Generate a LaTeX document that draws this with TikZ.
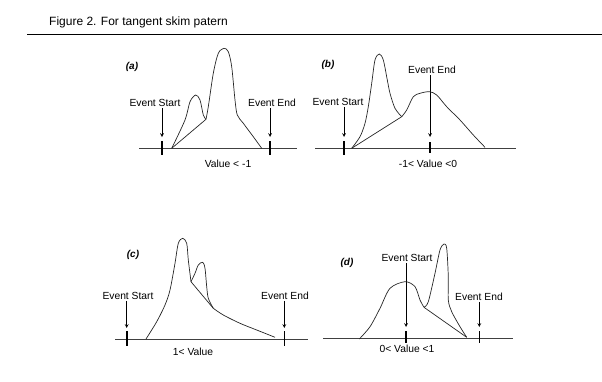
\documentclass[tikz,border=0pt]{standalone}
\usepackage{fontspec}
\setmainfont{Liberation Sans}
\usetikzlibrary{positioning}

\begin{document}
\begin{tikzpicture}[x=1pt,y=-1pt,
		lbl/.style={font=\fontsize{10.3}{12}\selectfont,inner sep=1pt},
		panel/.style={font=\fontsize{10}{11}\selectfont\bfseries\itshape,inner sep=0pt},
		tickmark/.style={line width=1.6pt},
		base/.style={line width=0.7pt,color=black!75},
		peak/.style={line width=0.7pt,color=black!85},
		pointer/.style={->,line width=0.7pt,>=stealth}]
				\useasboundingbox (0,0) rectangle (602,381);
				%Title
				\node[font=\fontsize{12}{14}\selectfont,anchor=west,inner sep=0pt] (title) at (49,22) {Figure 2. For tangent skim patern};
				\coordinate      (r0) 	at 	(27,34);
				\coordinate      (r1) 	at 	(602,34);
				\draw[line width=1pt] (r0) -- (r1);

				%Panel (a)
				\node[panel] (pa) at (132,67) {(a)};
				\node[lbl] (sa) at (155,103) {Event Start};
				\node[lbl] (ea) at (272,103) {Event End};
				\node[lbl] (va) at (228,164) {Value < -1};
				\coordinate      (a0) 	at 	(139,148);
				\coordinate      (a1) 	at 	(297,148);
				\coordinate      (as) 	at 	(162,148);
				\coordinate      (ae) 	at 	(270,148);
				\coordinate      (ap) 	at 	(171.7,148.3);
				\coordinate      (av) 	at 	(206,119.3);
				\coordinate      (aq) 	at 	(261.7,148.3);
				\draw[base] (a0) -- (a1);
				\draw[tickmark] (as) ++(0,-7) -- ++(0,14);
				\draw[tickmark] (ae) ++(0,-7) -- ++(0,14);
				\draw[pointer] (sa.south -| as) -- ([yshift=11pt]as);
				\draw[pointer] (ea.south -| ae) -- ([yshift=11pt]ae);
				\draw[peak] plot[smooth,tension=0.5] coordinates {(ap) (185,120) (190,101.7) (195.7,95) (200,100) (203.3,115) (av)};
				\draw[peak] plot[smooth,tension=0.5] coordinates {(av) (208.3,106.7) (213.3,73.3) (218.3,53.3) (224,48.3) (228.3,51.7) (231.7,66.7) (235,100) (237.3,115) (243.3,123.3) (253.3,136.7) (aq)};
				\draw[peak] (ap) -- (av);

				%Panel (b)
				\node[panel] (pb) at (328,65) {(b)};
				\node[lbl] (sb) at (338,102) {Event Start};
				\node[lbl] (eb) at (432,70) {Event End};
				\node[lbl] (vb) at (428,164) {-1< Value <0};
				\coordinate      (b0) 	at 	(315,148);
				\coordinate      (b1) 	at 	(516,148);
				\coordinate      (bs) 	at 	(344,148);
				\coordinate      (be) 	at 	(430,148);
				\coordinate      (bp) 	at 	(351.7,148.3);
				\coordinate      (bv) 	at 	(401.7,116.7);
				\coordinate      (bq) 	at 	(485,147.3);
				\draw[base] (b0) -- (b1);
				\draw[tickmark] (bs) ++(0,-7) -- ++(0,14);
				\draw[tickmark] (be) ++(0,-6) -- ++(0,11);
				\draw[pointer] (sb.south -| bs) -- ([yshift=11pt]bs);
				\draw[pointer] (eb.south -| be) -- ([yshift=11pt]be);
				\draw[peak] plot[smooth,tension=0.5] coordinates {(bp) (360,136.7) (365,123.3) (368.3,106.7) (371.7,83.3) (375,60) (379.3,54) (383.3,60) (387.3,80) (390,93.3) (395,108.3) (bv)};
				\draw[peak] plot[smooth,tension=0.5] coordinates {(bv) (406.7,110) (413.3,96.7) (420,93.3) (429.3,91.7) (436.7,95) (446.7,106.7) (460,120) (473.3,135) (bq)};
				\draw[peak] (bp) -- (bv);

				%Panel (c)
				\node[panel] (pc) at (133,255) {(c)};
				\node[lbl] (sc) at (128,296) {Event Start};
				\node[lbl] (ec) at (285,296) {Event End};
				\node[lbl] (vc) at (193,352) {1< Value};
				\coordinate      (c0) 	at 	(115,339);
				\coordinate      (c1) 	at 	(308,339);
				\coordinate      (cs) 	at 	(126.7,339);
				\coordinate      (ce) 	at 	(284.3,339);
				\coordinate      (cp) 	at 	(146,339);
				\coordinate      (cv) 	at 	(191,281.7);
				\coordinate      (cj) 	at 	(213.3,308.3);
				\coordinate      (cq) 	at 	(275,337.3);
				\draw[base] (c0) -- (c1);
				\draw[tickmark] (cs) ++(0,-8) -- ++(0,15);
				\draw[tickmark] (ce) ++(0,-8) -- ++(0,15);
				\draw[pointer] (sc.south -| cs) -- ([yshift=11pt]cs);
				\draw[pointer] (ec.south -| ce) -- ([yshift=11pt]ce);
				\draw[peak] plot[smooth,tension=0.5] coordinates {(cp) (156.7,321.7) (165,305) (170,290) (175,263.3) (178.3,243.3) (182.7,238.3) (186.7,243.3) (188.3,260) (cv)};
				\draw[peak] plot[smooth,tension=0.5] coordinates {(cv) (195,273.3) (198.3,265) (202.7,262.3) (205,268.3) (206.7,286.7) (208.3,298.3) (cj)};
				\draw[peak] plot[smooth,tension=0.5] coordinates {(cj) (223.3,315) (240,323.3) (256.7,330) (cq)};
				\draw[peak] (cv) -- (cj);

				%Panel (d)
				\node[panel] (pd) at (347,263) {(d)};
				\node[lbl] (sd) at (407,258) {Event Start};
				\node[lbl] (ed) at (479,297) {Event End};
				\node[lbl] (vd) at (407,349) {0< Value <1};
				\coordinate      (d0) 	at 	(323,338);
				\coordinate      (d1) 	at 	(513,338);
				\coordinate      (ds) 	at 	(406,338);
				\coordinate      (de) 	at 	(479.3,338);
				\coordinate      (dp) 	at 	(359.3,339);
				\coordinate      (dv) 	at 	(424,307.3);
				\coordinate      (dq) 	at 	(466.7,337.3);
				\draw[base] (d0) -- (d1);
				\draw[tickmark] (ds) ++(0,-7) -- ++(0,12);
				\draw[tickmark] (de) ++(0,-7) -- ++(0,12);
				\draw[pointer] (sd.south -| ds) -- ([yshift=11pt]ds);
				\draw[pointer] (ed.south -| de) -- ([yshift=11pt]de);
				\draw[peak] plot[smooth,tension=0.5] coordinates {(dp) (370,326.7) (380,308.3) (390,288.3) (405,281.7) (415,286.7) (420,300) (dv)};
				\draw[peak] plot[smooth,tension=0.5] coordinates {(dv) (428.3,301.7) (435,273.3) (440,250) (444,244) (446.7,248.3) (448.3,276.7) (448.3,300) (451.7,311.7) (460,326.7) (dq)};
				\draw[peak] (dv) -- (dq);
		\end{tikzpicture}
\end{document}
